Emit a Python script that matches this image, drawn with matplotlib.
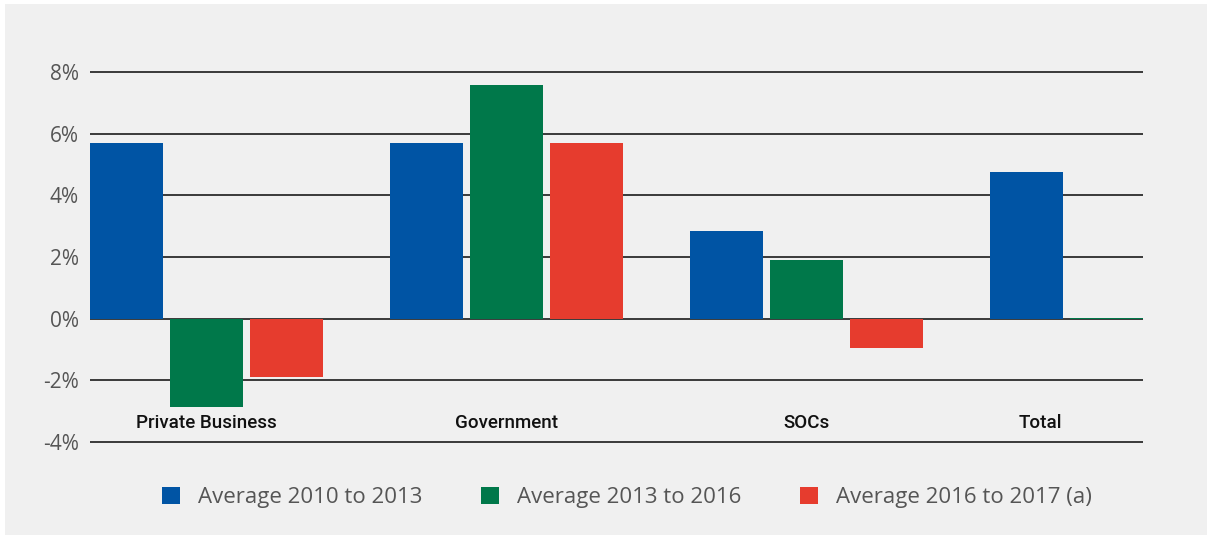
import matplotlib.pyplot as plt
from matplotlib.patches import Rectangle
import numpy as np

plt.rcParams['font.family'] = ['Open Sans', 'DejaVu Sans']

categories = ["Private Business", "Government", "SOCs", "Total"]
series_names = ["Average 2010 to 2013", "Average 2013 to 2016", "Average 2016 to 2017 (a)"]
avg_2010_2013 = [5.7, 5.7, 2.85, 4.76]
avg_2013_2016 = [-2.85, 7.57, 1.91, 0.03]
avg_2016_2017 = [-1.9, 5.7, -0.94, 0.0]
yticks = [-4, -2, 0, 2, 4, 6, 8]
ytick_labels = ["-4%", "-2%", "0%", "2%", "4%", "6%", "8%"]
label_pos = [0, 1, 2, 2.78]

colors = ["#0054a4", "#00784a", "#e63c2e"]

fig = plt.figure(figsize=(12.07, 5.35), dpi=100, facecolor="white")
fig.patches.append(Rectangle((5 / 1207, 0), 1 - 5 / 1207, 1 - 4 / 535, transform=fig.transFigure,
                             facecolor="#f0f0f0", edgecolor="none", zorder=-10))
ax = fig.add_axes([90 / 1207, 1 - 442 / 535, (1143 - 90) / 1207, (442 - 72) / 535])
ax.set_zorder(5)
ax.set_facecolor("none")

x = np.arange(len(categories))
w = 0.2433
step = 0.2667
for i, (vals, name) in enumerate(zip([avg_2010_2013, avg_2013_2016, avg_2016_2017], series_names)):
    ax.bar(x + (i - 1) * step, vals, width=w, color=colors[i], label=name, zorder=3)

ax.hlines(yticks, -0.388, 3.122, colors="#3a3a3a", linewidth=1.4, zorder=2, clip_on=False)
ax.set_xlim(-0.388, 3.122)
ax.set_ylim(-4, 8)
ax.set_yticks(yticks)
ax.set_yticklabels(ytick_labels, fontsize=15, color="#555555")
ax.set_xticks([])
ax.tick_params(axis="y", length=0, pad=8)
for s in ax.spines.values():
    s.set_visible(False)

for pos, cat in zip(label_pos, categories):
    ax.text(pos, -3.4, cat, ha="center", va="center", fontsize=13.5, color="#111111",
            family=["Roboto", "DejaVu Sans"], fontweight="medium")

ax.legend(loc="center", bbox_to_anchor=(0.51, -0.149), ncol=3, frameon=False,
          fontsize=16, labelcolor="#555555", handlelength=0.8, handleheight=0.8,
          columnspacing=2.65, handletextpad=0.8)

fig.savefig("out.png", dpi=100, facecolor=fig.get_facecolor())
